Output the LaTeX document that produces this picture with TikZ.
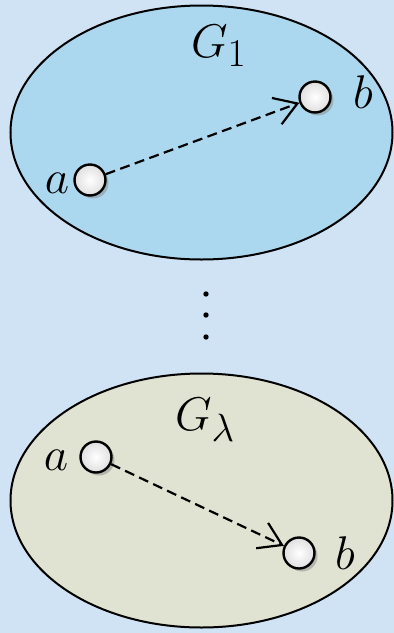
\documentclass[tikz,border=0pt]{standalone}
\usetikzlibrary{arrows.meta,shadows}
\definecolor{bgc}{RGB}{208,227,245}
\definecolor{topc}{RGB}{172,216,239}
\definecolor{botc}{RGB}{224,227,210}
\tikzset{
  region/.style={draw=black, line width=2pt},
  vtx/.style={circle, draw=black, line width=2.4pt, minimum size=31pt, inner sep=0pt,
    shading=radial, inner color=white, outer color=gray!25,
    drop shadow={opacity=0.45, shadow xshift=3pt, shadow yshift=-3pt}},
  lbl/.style={inner sep=0pt, anchor=base, font=\Huge, scale=1.9, transform shape},
  arr/.style={line width=2.2pt, dash pattern=on 10pt off 5.5pt,
    -{Straight Barb[length=22pt,width=28pt,line width=2.2pt]}},
  dotp/.style={fill=black}
}
\begin{document}
\begin{tikzpicture}[x=1pt,y=-1pt]
\useasboundingbox (0,0) rectangle (394,633);
\fill[bgc] (0,0) rectangle (394,633);
% top region
\filldraw[region, fill=topc] (201.5,132.5) ellipse [x radius=191, y radius=127];
\node[lbl] (g1) at (219,57) {$G_1$};
\node[vtx] (a1) at (90,180) {};
\node[vtx] (b1) at (315,97) {};
\node[lbl] (la1) at (57,193) {$a$};
\node[lbl] (lb1) at (363,108) {$b$};
\draw[arr] (a1) -- (b1);
% dots
\fill[dotp] (206,294) circle (2.7);
\fill[dotp] (206,315) circle (2.7);
\fill[dotp] (206,337) circle (2.7);
% bottom region
\filldraw[region, fill=botc] (201.5,500.5) ellipse [x radius=191, y radius=127];
\node[lbl] (g2) at (205,430) {$G_\lambda$};
\node[vtx] (a2) at (96,457) {};
\node[vtx] (b2) at (299,553) {};
\node[lbl] (la2) at (56,470) {$a$};
\node[lbl] (lb2) at (345,569) {$b$};
\draw[arr] (a2) -- (b2);
\end{tikzpicture}
\end{document}
